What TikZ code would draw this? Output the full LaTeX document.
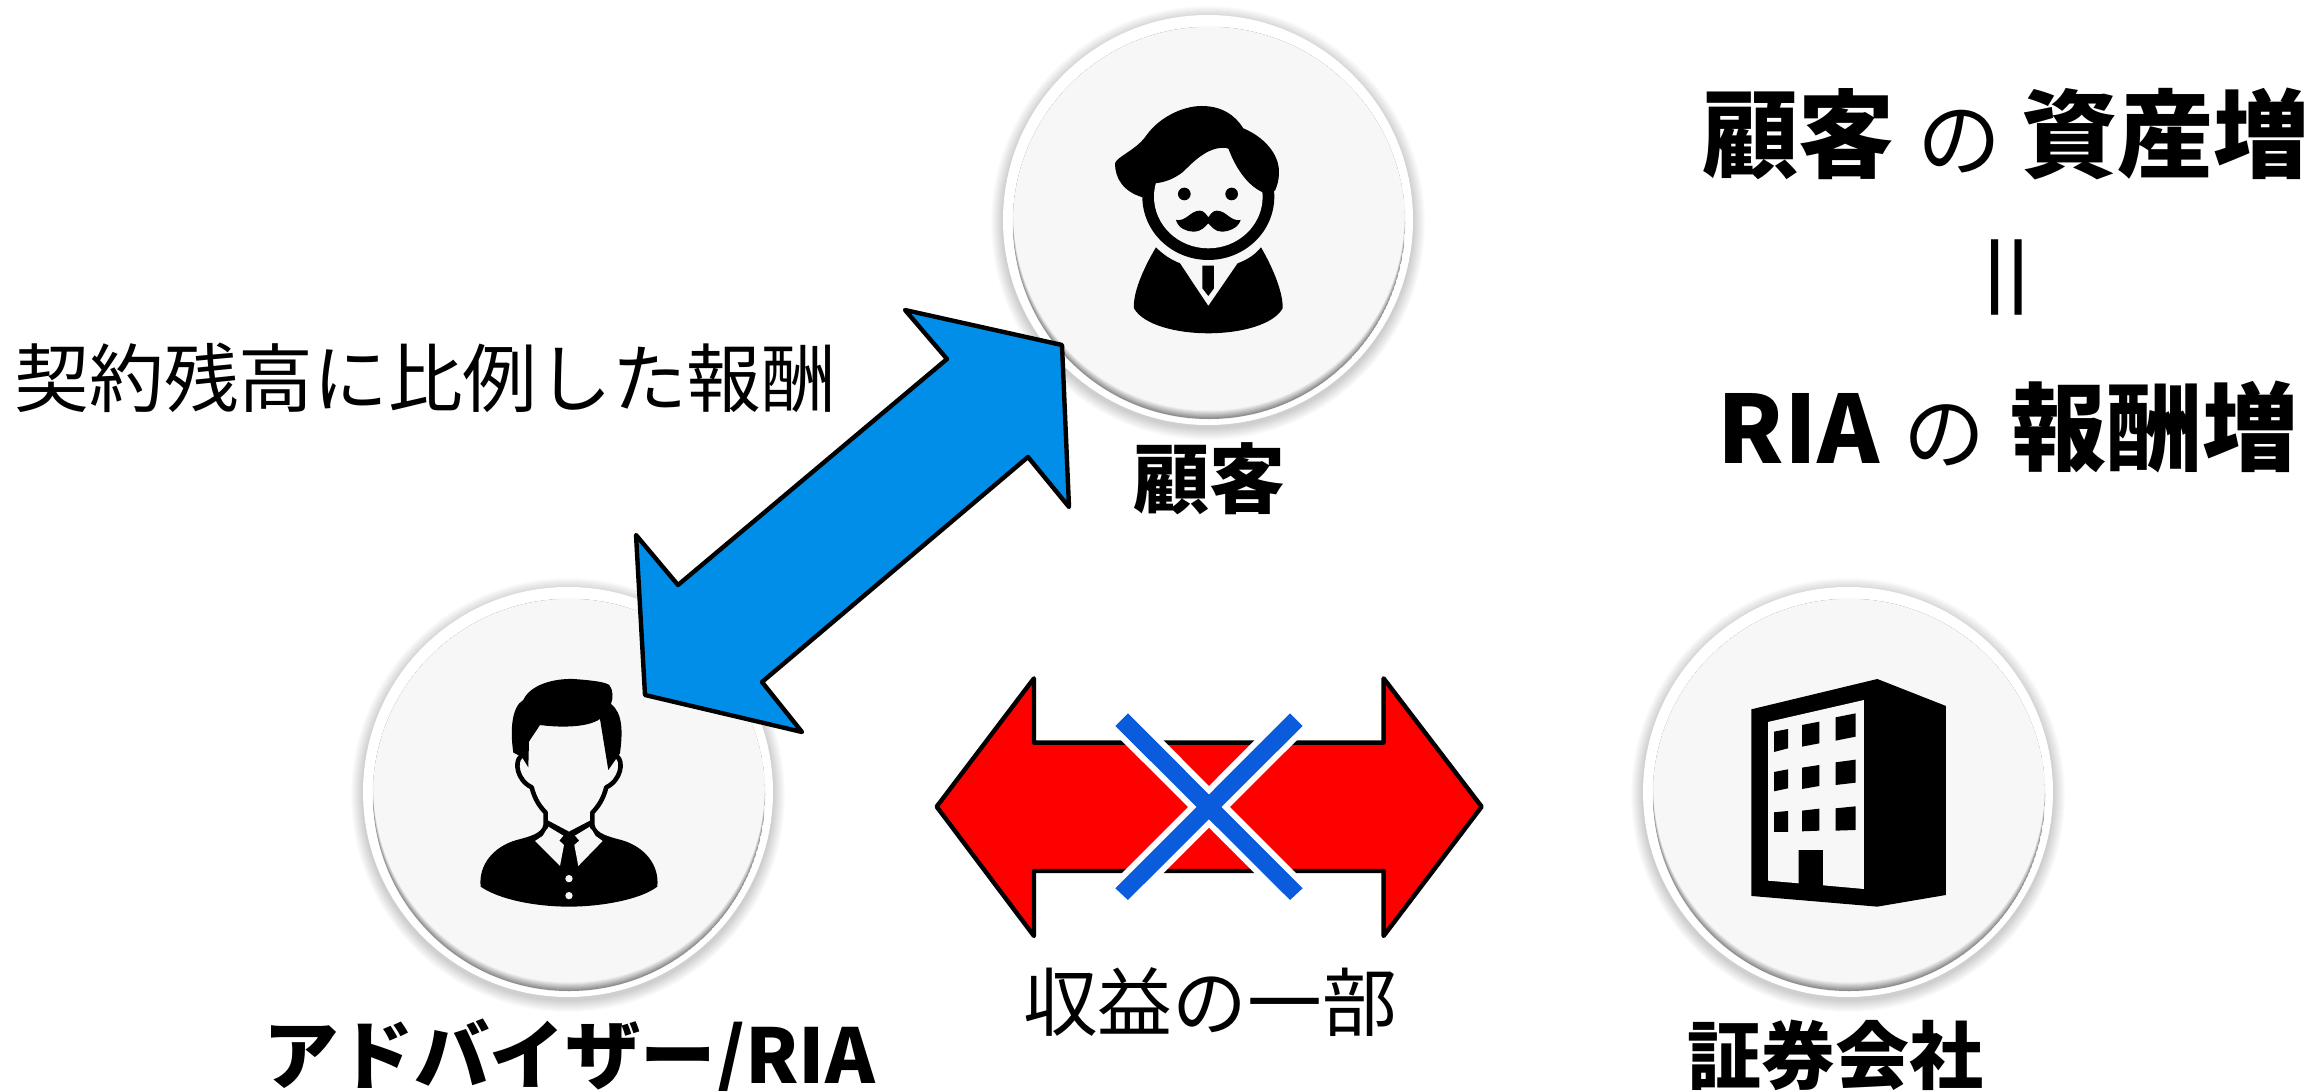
\documentclass[tikz,border=0pt]{standalone}
\usepackage{fontspec}
\setmainfont{Noto Sans CJK JP}
\definecolor{disc}{HTML}{F7F7F7}
\definecolor{bluearrow}{HTML}{018EE8}
\definecolor{crossblue}{HTML}{0B5BDD}
\newcommand{\drawbadge}[3]{%
  \foreach \i in {1,...,12}{\fill[black,opacity=0.016] (#2,#3+3) circle ({205+13-\i});}
  \node[circle,fill=white,draw=none,minimum size=410pt,inner sep=0pt] (#1) at (#2,#3) {};
  \fill[white!95!black] (#2+1,#3+3) circle (196.5);
  \begin{scope}
    \clip (#2+1,#3+3) circle (196);
    \foreach \i in {0,...,9}{%
      \pgfmathsetmacro{\mixv}{100-\i*100/9}
      \fill[black!45!white!\mixv!disc] (#2+1,{#3+3-\i*0.9}) circle ({196-\i*0.05});
    }
  \end{scope}
}
\newcommand{\titlefont}[1]{\fontsize{#1}{#1}\selectfont}
\tikzset{
  lab/.style={anchor=base,inner sep=0pt,font=\fontsize{74.7}{75}\selectfont},
  blab/.style={lab,font=\fontsize{76}{76}\selectfont\bfseries},
  bigt/.style={anchor=base,inner sep=0pt,font=\fontsize{96}{96}\selectfont\bfseries},
  icon/.style={fill=black,draw=none},
  hole/.style={fill=disc,draw=none},
  fatarrow/.style={draw=black,line width=4.4pt,line join=round},
}
\begin{document}
\begin{tikzpicture}[x=1pt,y=-1pt]
\useasboundingbox (0,0) rectangle (2318,1090);
\fill[white] (0,0) rectangle (2318,1090);

\drawbadge{custdisc}{1208}{220}
\drawbadge{advdisc}{568}{792}
\drawbadge{brokdisc}{1848}{792}

% customer icon
\begin{scope}[shift={(980,0)},x=0.3333pt,y=-0.3333pt]
  \fill[icon] (685,590) ellipse (198 and 190);
  \fill[hole] (685,590) ellipse (163 and 155);
  \fill[icon] (405,490) .. controls (410,470) and (470,450) .. (500,405)
     .. controls (540,350) and (610,318) .. (665,318)
     .. controls (725,318) and (765,345) .. (790,385)
     .. controls (850,410) and (897,460) .. (897,515)
     .. controls (897,545) and (890,560) .. (885,572) -- (848,577)
     .. controls (800,555) and (765,500) .. (745,445)
     .. controls (690,435) and (645,480) .. (610,515)
     .. controls (585,535) and (555,548) .. (523,550)
     -- (520,600) -- (488,592)
     .. controls (430,575) and (405,535) .. (405,490) -- cycle;
  \fill[icon] (613,582) circle (19);
  \fill[icon] (755,582) circle (19);
  \fill[icon] (588,660) .. controls (620,665) and (630,632) .. (660,632)
     .. controls (672,632) and (680,645) .. (685,652)
     .. controls (690,645) and (698,632) .. (710,632)
     .. controls (740,632) and (750,665) .. (782,660)
     .. controls (775,685) and (745,695) .. (725,695)
     .. controls (705,695) and (695,680) .. (685,670)
     .. controls (675,680) and (665,695) .. (640,695)
     .. controls (620,695) and (595,685) .. (588,660) -- cycle;
  \fill[icon] (528,742) .. controls (550,765) and (575,780) .. (600,790)
     -- (685,918) -- (773,790)
     .. controls (800,780) and (825,765) .. (843,742)
     .. controls (880,805) and (910,880) .. (908,925)
     .. controls (880,975) and (780,1000) .. (685,1000)
     .. controls (590,1000) and (490,975) .. (462,925)
     .. controls (458,880) and (490,805) .. (528,742) -- cycle;
  \fill[icon] (667,797) -- (702,797) -- (702,865) -- (685,888) -- (667,865) -- cycle;
\end{scope}

% advisor icon
\begin{scope}[shift={(350,570)},x=0.3333pt,y=-0.3333pt]
  \fill[icon] (392,950) .. controls (385,885) and (430,830) .. (500,810)
     .. controls (540,800) and (575,790) .. (580,765)
     -- (595,752) -- (657,785) -- (720,752) -- (734,765)
     .. controls (739,790) and (774,800) .. (814,810)
     .. controls (884,830) and (929,885) .. (922,950)
     .. controls (870,990) and (750,1010) .. (657,1010)
     .. controls (560,1010) and (450,990) .. (392,950) -- cycle;
  \fill[hole] (555,813) -- (630,888) -- (642,825) -- (628,812) -- (640,797) -- (595,770) -- (578,798) -- cycle;
  \fill[hole] (758,813) -- (685,888) -- (673,825) -- (688,812) -- (675,797) -- (720,770) -- (737,798) -- cycle;
  \fill[hole] (657,926) circle (11);
  \fill[hole] (657,977) circle (11);
  \draw[black,line width=4.6pt,line cap=round,line join=round]
     (512,560) .. controls (493,575) and (500,630) .. (545,652)
     .. controls (555,690) and (570,710) .. (587,728) -- (587,772);
  \draw[black,line width=4.6pt,line cap=round,line join=round]
     (802,560) .. controls (821,575) and (814,630) .. (769,652)
     .. controls (759,690) and (744,710) .. (727,728) -- (727,772);
  \fill[icon] (490,548) .. controls (480,480) and (485,410) .. (520,390)
     .. controls (540,345) and (610,325) .. (670,327)
     .. controls (715,330) and (765,335) .. (778,345)
     .. controls (790,360) and (790,385) .. (783,402)
     .. controls (820,430) and (818,490) .. (810,550)
     -- (775,600) -- (750,447)
     .. controls (710,475) and (620,472) .. (570,465)
     -- (537,515) -- (535,592) -- (515,560) -- cycle;
\end{scope}

% building icon
\begin{scope}[shift={(1630,570)},x=0.3333pt,y=-0.3333pt]
  \fill[icon] (364,418) -- (742,327) -- (948,408) -- (948,975) -- (742,1010) -- (364,978) -- cycle;
  \fill[hole] (414,456) -- (702,390) -- (702,957) -- (579,946) -- (579,840) -- (506,840) -- (506,940) -- (414,932) -- cycle;
  \fill[icon] (432,485) -- (474,477) -- (474,535) -- (432,546) -- cycle;
  \fill[icon] (516,465) -- (568,455) -- (568,520) -- (516,530) -- cycle;
  \fill[icon] (617,442) -- (677,430) -- (677,500) -- (617,512) -- cycle;
  \fill[icon] (432,606) -- (474,598) -- (474,655) -- (432,664) -- cycle;
  \fill[icon] (516,593) -- (568,585) -- (568,648) -- (516,657) -- cycle;
  \fill[icon] (617,577) -- (677,569) -- (677,638) -- (617,645) -- cycle;
  \fill[icon] (432,727) -- (474,723) -- (474,786) -- (432,786) -- cycle;
  \fill[icon] (516,722) -- (568,716) -- (568,782) -- (516,784) -- cycle;
  \fill[icon] (617,715) -- (677,709) -- (677,780) -- (617,782) -- cycle;
\end{scope}

% blue double arrow
\fill[bluearrow,fatarrow] (947,359) -- (905,310) -- (1062,345) -- (1069,507) -- (1028,457)
   -- (762,682) -- (802,732) -- (645,695) -- (636,535) -- (678,585) -- cycle;

% red double arrow with cross
\begin{scope}[shift={(920,660)},x=0.37pt,y=-0.3333pt]
  \fill[red,fatarrow] (45,440) -- (308,55) -- (308,248) -- (1253,248) -- (1253,55) -- (1518,440)
     -- (1253,828) -- (1253,633) -- (308,633) -- (308,828) -- cycle;
  \fill[white,draw=white,line width=12pt] (528,198) -- (562,160) -- (1034,685) -- (1000,720) -- cycle;
  \fill[white,draw=white,line width=12pt] (1000,160) -- (1034,198) -- (562,720) -- (528,685) -- cycle;
  \fill[crossblue] (528,198) -- (562,160) -- (1034,685) -- (1000,720) -- cycle;
  \fill[crossblue] (1000,160) -- (1034,198) -- (562,720) -- (528,685) -- cycle;
\end{scope}

% labels
\node[lab] (fee) at (425.5,406) {契約残高に比例した報酬};
\node[blab] (custlab) at (1209,507) {顧客};
\node[blab,font=\fontsize{75.5}{76}\selectfont\bfseries] (advlab) at (569,1083) {アドバイザー/RIA};
\node[lab] (partlab) at (1210,1030) {収益の一部};
\node[blab,font=\fontsize{74}{74}\selectfont\bfseries] (broklab) at (1835,1083) {証券会社};
\node[bigt] (line1) at (2006,170) {顧客\hspace{23pt}{\mdseries\titlefont{84}の}\hspace{20pt}資産増};
\node[font=\fontsize{104}{104}\selectfont,rotate=90,inner sep=0pt] (eqsign) at (2019,277) {＝};
\node[bigt] (line3) at (2008,463) {{\titlefont{94}RIA}\hspace{24pt}{\mdseries\titlefont{82}の}\hspace{25pt}報酬増};
\end{tikzpicture}
\end{document}
